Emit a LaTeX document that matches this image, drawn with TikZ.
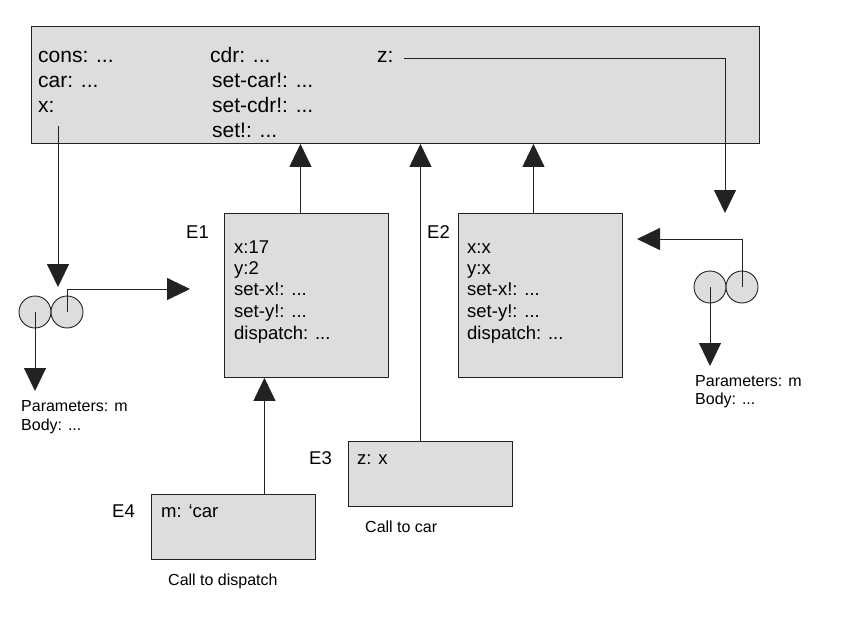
\documentclass[tikz,border=0pt]{standalone}
\usepackage{fontspec}
\setmainfont{Liberation Sans}
\usetikzlibrary{arrows.meta,calc}
\definecolor{boxfill}{HTML}{DDDDDD}
\definecolor{edge}{HTML}{222222}
\tikzset{
  envbox/.style={draw=edge, line width=0.9pt, fill=boxfill, rectangle, inner sep=0pt, anchor=north west},
  ball/.style={draw=edge, line width=0.9pt, fill=boxfill, circle, inner sep=0pt, minimum size=32pt},
  conn/.style={line width=0.9pt, draw=edge, -{Triangle[length=23pt,width=22pt]}},
  plain/.style={line width=0.9pt, draw=edge},
  big/.style={anchor=base west, inner sep=0pt, font=\fontsize{21}{25}\selectfont},
  mid/.style={anchor=base west, inner sep=0pt, font=\fontsize{18.5}{22}\selectfont},
  small/.style={anchor=base west, inner sep=0pt, font=\fontsize{16}{19}\selectfont},
}
\begin{document}
\begin{tikzpicture}[x=1pt,y=-1pt]
\useasboundingbox (0,0) rectangle (849,623);
% global environment
\node[envbox, minimum width=728pt, minimum height=117pt] (G) at (31,26) {};
\node[big] (tcons) at (38,63) {cons: ...};
\node[big] (tcar) at (38,88) {car: ...};
\node[big] (tx) at (38,113) {x:};
\node[big] (tcdr) at (210,63) {cdr: ...};
\node[big] (tsetcar) at (212,88) {set-car!: ...};
\node[big] (tsetcdr) at (212,113) {set-cdr!: ...};
\node[big] (tset) at (212,138) {set!: ...};
\node[big] (tz) at (377,63) {z:};
% E1
\node[envbox, minimum width=164pt, minimum height=164pt] (E1) at (224,213) {};
\node[mid] (l1) at (186,238) {E1};
\node[mid] (e1a) at (234,253) {x:17};
\node[mid] (e1b) at (234,274) {y:2};
\node[mid] (e1c) at (234,295) {set-x!: ...};
\node[mid] (e1d) at (234,317) {set-y!: ...};
\node[mid] (e1e) at (234,339) {dispatch: ...};
% E2
\node[envbox, minimum width=164pt, minimum height=164pt] (E2) at (458,213) {};
\node[mid] (l2) at (427,238) {E2};
\node[mid] (e2a) at (467,253) {x:x};
\node[mid] (e2b) at (467,274) {y:x};
\node[mid] (e2c) at (467,295) {set-x!: ...};
\node[mid] (e2d) at (467,317) {set-y!: ...};
\node[mid] (e2e) at (467,339) {dispatch: ...};
% E3
\node[envbox, minimum width=164pt, minimum height=65pt] (E3) at (348,441) {};
\node[mid] (l3) at (309,464) {E3};
\node[mid] (e3a) at (357,464) {z: x};
\node[small] (c3) at (365,532) {Call to car};
% E4
\node[envbox, minimum width=164pt, minimum height=65pt] (E4) at (151,494) {};
\node[mid] (l4) at (112,517) {E4};
\node[mid] (e4a) at (161,517) {m: ‘car};
\node[small] (c4) at (168,585) {Call to dispatch};
% procedure objects
\node[ball] (pa) at (35,312) {};
\node[ball] (pb) at (67,312) {};
\node[small] (pp) at (21,411) {Parameters: m};
\node[small] (pbody) at (21,430) {Body: ...};
\node[ball] (qa) at (710,287) {};
\node[ball] (qb) at (742,287) {};
\node[small] (qp) at (695,386) {Parameters: m};
\node[small] (qbody) at (695,404) {Body: ...};
% free ends
\coordinate (xstart) at (58,126);
\coordinate (xend) at (58,287);
\coordinate (zstart) at (404,58);
\coordinate (zend) at (725,213);
\coordinate (pbend) at (190,289);
\coordinate (pdown) at (35,391);
\coordinate (qbend) at (637,239);
\coordinate (qdown) at (710,366);
% connectors
\draw[conn] (xstart) -- (xend);
\draw[conn] (zstart) -| (zend);
\draw[conn] (pb.center) |- (pbend);
\draw[conn] (pa.center) -- (pdown);
\draw[conn] (qb.center) |- (qbend);
\draw[conn] (qa.center) -- (qdown);
\draw[conn] ([xshift=-6pt]E1.north) -- ([xshift=-6pt]E1.north |- G.south);
\draw[conn] ([xshift=-7pt]E2.north) -- ([xshift=-7pt]E2.north |- G.south);
\draw[conn] ([xshift=-10pt]E3.north) -- ([xshift=-10pt]E3.north |- G.south);
\draw[conn] ([xshift=31pt]E4.north) -- ([xshift=31pt]E4.north |- E1.south);
\end{tikzpicture}
\end{document}
